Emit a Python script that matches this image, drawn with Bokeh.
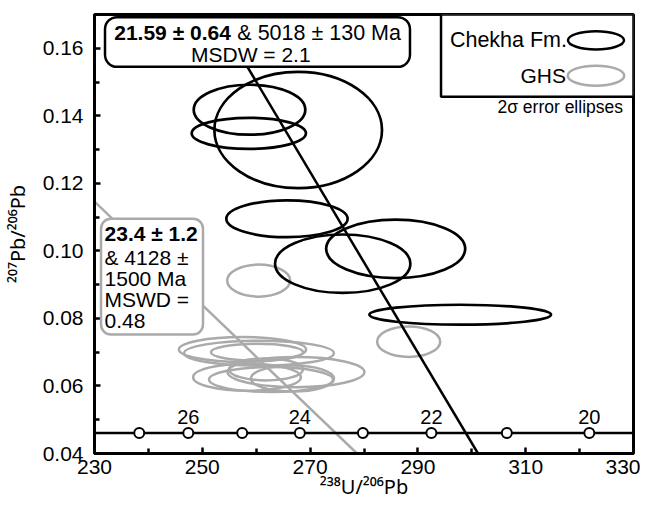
from bokeh.plotting import figure
from bokeh.models import BoxAnnotation, Label, FixedTicker, PrintfTickFormatter
from bokeh.core.properties import value
from bokeh.embed import file_html
from bokeh.resources import INLINE

# ---- data ----
# Chekha Fm. 2-sigma error ellipses: centre, full width (238U/206Pb), full height (207Pb/206Pb)
chekha_x = [258.76, 258.63, 267.79, 265.71, 276.05, 285.88, 297.85]
chekha_y = [0.1418, 0.1348, 0.1358, 0.1095, 0.0962, 0.1006, 0.0811]
chekha_w = [20.7, 21.2, 31.1, 22.5, 25.1, 25.8, 33.7]
chekha_h = [0.0148, 0.0092, 0.0344, 0.0109, 0.0173, 0.0173, 0.0059]

# GHS 2-sigma error ellipses
ghs_x = [260.46, 288.29, 257.46, 260.52, 260.15, 258.29, 267.38, 262.75, 266.73, 261.82]
ghs_y = [0.0912, 0.0731, 0.0708, 0.0697, 0.0700, 0.0626, 0.0641, 0.0619, 0.0622, 0.0649]
ghs_w = [11.7, 11.7, 23.6, 27.8, 17.1, 20.0, 25.4, 23.0, 15.4, 13.7]
ghs_h = [0.0095, 0.0090, 0.0074, 0.0074, 0.0050, 0.0080, 0.0089, 0.0074, 0.0077, 0.0065]

# Discordia regression lines
chekha_fit_x = [252.58, 301.15]
chekha_fit_y = [0.17, 0.04]
ghs_fit_x = [230.0, 278.7]
ghs_fit_y = [0.1146, 0.04]

# Concordia (Tera-Wasserburg), 1 Ma markers from 27 to 20 Ma
concordia_line_x = [230.0, 330.0]
concordia_line_y = [0.0461, 0.0461]
concordia_ages = [27, 26, 25, 24, 23, 22, 21, 20]
concordia_x = [238.3, 247.4, 257.4, 268.1, 279.8, 292.5, 306.5, 321.8]
concordia_y = [0.0461, 0.0461, 0.0461, 0.0461, 0.0461, 0.0461, 0.0461, 0.0461]
age_label_text = ["26", "24", "22", "20"]
age_label_x = [247.4, 268.1, 292.5, 321.8]

x_ticks = [230, 250, 270, 290, 310, 330]
x_minor = [240, 260, 280, 300, 320]
y_ticks = [0.04, 0.06, 0.08, 0.10, 0.12, 0.14, 0.16]
y_minor = [0.05, 0.07, 0.09, 0.11, 0.13, 0.15]

FONT = "Liberation Sans"
SUPFONT = "Noto Sans"
GREY = "#aaaaaa"

p = figure(width=640, height=506, x_range=(230, 330), y_range=(0.04, 0.17),
           output_backend="svg", toolbar_location=None,
           min_border_left=93, min_border_right=7, min_border_top=14, min_border_bottom=53)
p.background_fill_color = "white"
p.border_fill_color = "white"
p.grid.visible = False
p.outline_line_color = "black"
p.outline_line_width = 3
p.outline_line_alpha = 1

p.xaxis.ticker = FixedTicker(ticks=x_ticks, minor_ticks=x_minor)
p.yaxis.ticker = FixedTicker(ticks=y_ticks, minor_ticks=y_minor)
p.xaxis.formatter = PrintfTickFormatter(format="%d")
p.yaxis.formatter = PrintfTickFormatter(format="%.2f")
for ax in (p.xaxis, p.yaxis):
    ax.axis_line_width = 3
    ax.axis_line_color = "black"
    ax.major_tick_in = 6
    ax.major_tick_out = 0
    ax.minor_tick_in = 5
    ax.minor_tick_out = 0
    ax.major_tick_line_width = 2.5
    ax.minor_tick_line_width = 2.5
    ax.major_tick_line_color = "black"
    ax.minor_tick_line_color = "black"
    ax.major_label_text_font = FONT
    ax.major_label_text_font_size = "21px"
    ax.major_label_text_color = "black"
    ax.axis_label_text_font = SUPFONT
    ax.axis_label_text_font_size = "20px"
    ax.axis_label_text_font_style = "normal"
    ax.axis_label_text_color = "black"
p.xaxis.major_label_standoff = 6
p.yaxis.major_label_standoff = 11
p.yaxis.axis_label = "²⁰⁷Pb/²⁰⁶Pb"
p.yaxis.axis_label_standoff = 9
p.xaxis.axis_label = "²³⁸U/²⁰⁶Pb"
p.xaxis.axis_label_standoff = -4

# ellipses
p.ellipse(x=ghs_x, y=ghs_y, width=ghs_w, height=ghs_h, fill_color=None,
          line_color=GREY, line_width=2.5)
p.ellipse(x=chekha_x, y=chekha_y, width=chekha_w, height=chekha_h, fill_color=None,
          line_color="black", line_width=2.7)

# discordia lines
p.line(ghs_fit_x, ghs_fit_y, line_color=GREY, line_width=2.5)
p.line(chekha_fit_x, chekha_fit_y, line_color="black", line_width=2.5)

# concordia
p.line(concordia_line_x, concordia_line_y, line_color="black", line_width=2.5)
p.scatter(concordia_x, concordia_y, marker="circle", size=10, fill_color="white",
          line_color="black", line_width=2)
p.text(x=age_label_x, y=[0.0508] * len(age_label_x), text=age_label_text,
       text_align="center", text_baseline="middle", text_font_size="20px",
       text_font=value(FONT), text_color="black")

# upper (Chekha) annotation box
p.add_layout(BoxAnnotation(left=231.95, right=288.53, top=0.1692, bottom=0.1545,
                           fill_color="white", fill_alpha=1, line_color="black",
                           line_width=2.5, line_alpha=1, border_radius=12))
p.add_layout(Label(x=255.3, y=0.1646, text="21.59 ± 0.64", text_align="right",
                   text_baseline="middle", text_font=FONT, text_font_size="21px",
                   text_font_style="bold", text_color="black"))
p.add_layout(Label(x=256.5, y=0.1646, text="& 5018 ± 130 Ma", text_align="left",
                   text_baseline="middle", text_font=FONT, text_font_size="21.5px",
                   text_color="black"))
p.add_layout(Label(x=259.0, y=0.1582, text="MSDW = 2.1", text_align="center",
                   text_baseline="middle", text_font=FONT, text_font_size="21px",
                   text_color="black"))

# left (GHS) annotation box
p.add_layout(BoxAnnotation(left=231.21, right=250.13, top=0.10955, bottom=0.07522,
                           fill_color="white", fill_alpha=1, line_color=GREY,
                           line_width=2.5, line_alpha=1, border_radius=10))
ghs_lines = [("23.4 ± 1.2", "bold", 0.10511), ("& 4128 ±", "normal", 0.09815),
             ("1500 Ma", "normal", 0.09194), ("MSWD =", "normal", 0.08572),
             ("0.48", "normal", 0.07936)]
for txt, style, yy in ghs_lines:
    p.add_layout(Label(x=231.86, y=yy, text=txt, text_align="left", text_baseline="middle",
                       text_font=FONT, text_font_size="21px", text_font_style=style,
                       text_color="black"))

# legend box
p.add_layout(BoxAnnotation(left=294.29, right=330, top=0.17, bottom=0.14565,
                           fill_color="white", fill_alpha=1, line_color="black",
                           line_width=2.5, line_alpha=1))
p.add_layout(Label(x=317.66, y=0.16252, text="Chekha Fm.", text_align="right",
                   text_baseline="middle", text_font=FONT, text_font_size="21.5px",
                   text_color="black"))
p.add_layout(Label(x=317.48, y=0.15187, text="GHS", text_align="right",
                   text_baseline="middle", text_font=FONT, text_font_size="21px",
                   text_color="black"))
p.ellipse(x=[323.04], y=[0.16237], width=[10.4], height=[0.0054], fill_color=None,
          line_color="black", line_width=2.5, level="overlay")
p.ellipse(x=[323.04], y=[0.15187], width=[10.5], height=[0.0059], fill_color=None,
          line_color=GREY, line_width=2.5, level="overlay")
p.add_layout(Label(x=328.05, y=0.14269, text="2σ error ellipses", text_align="right",
                   text_baseline="middle", text_font=FONT, text_font_size="17.5px",
                   text_color="black"))

open("out.html", "w").write(file_html(p, INLINE))
